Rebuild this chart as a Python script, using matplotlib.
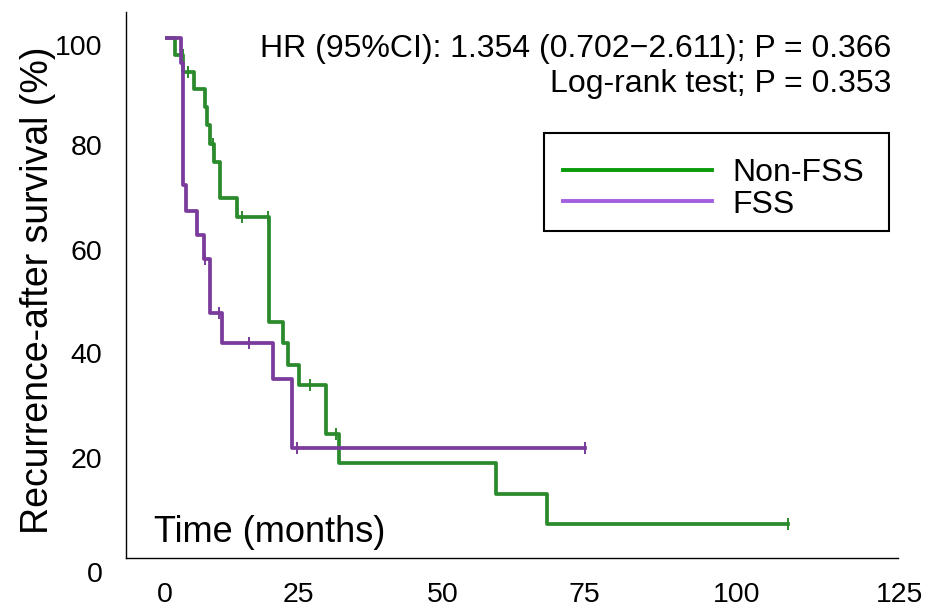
import matplotlib
matplotlib.use('Agg')
from matplotlib import pyplot as plt
from matplotlib.lines import Line2D
from matplotlib.patches import Rectangle
from matplotlib.transforms import ScaledTranslation

plt.rcParams['font.family'] = ['Liberation Sans', 'DejaVu Sans']

# Kaplan-Meier steps (months, %)
nonfss_t = [0, 1.37, 2.79, 4.67, 6.5, 6.8, 7.35, 8.0, 9.06, 11.9, 17.5, 19.9, 20.7, 22.6, 27.2, 29.4, 56.2, 64.9]
nonfss_s = [100, 96.7, 93.5, 90.1, 86.8, 83.3, 79.7, 76.2, 69.2, 65.6, 45.3, 41.3, 37.2, 33.3, 23.8, 18.2, 12.4, 6.5]
nonfss_end = 106.2
nonfss_cens_t = [2.7, 3.59, 7.9, 12.8, 17.3, 24.4, 28.9, 106.2]
nonfss_cens_s = [96.7, 93.5, 79.7, 65.6, 65.6, 33.3, 23.8, 6.5]

fss_t = [0, 2.39, 2.82, 3.2, 5.08, 6.32, 7.35, 9.35, 18.17, 21.3]
fss_s = [100, 95.2, 71.7, 66.8, 62.1, 57.5, 47.1, 41.3, 34.5, 21.2]
fss_end = 71.45
fss_cens_t = [6.5, 8.94, 14.07, 22.3, 71.45]
fss_cens_s = [57.5, 47.1, 41.3, 21.2, 21.2]

xticks = [0, 25, 50, 75, 100, 125]
yticks = [0, 20, 40, 60, 80, 100]

green = '#2b8a2b'
purple = '#7b3b9c'

fig = plt.figure(figsize=(9.3, 6.08), dpi=100)
ax = fig.add_axes([126/930, 1-558/608, (898-126)/930, (558-12)/608])

# curves, green under purple
ax.step(nonfss_t + [nonfss_end], nonfss_s + [nonfss_s[-1]], where='post', color=green, lw=2.7)
ax.plot(nonfss_cens_t, nonfss_cens_s, ls='none', marker='|', ms=8, mew=1.4, color=green)
ax.step(fss_t + [fss_end], fss_s + [fss_s[-1]], where='post', color=purple, lw=2.7)
ax.plot(fss_cens_t, fss_cens_s, ls='none', marker='|', ms=8, mew=1.4, color=purple)

ax.set_xlim(-7.0, 124.96)
ax.set_ylim(0, 105)
ax.set_xticks(xticks)
ax.set_yticks(yticks)
ax.tick_params(length=0, labelsize=20.5)
ax.tick_params(axis='x', pad=17)
ax.tick_params(axis='y', pad=17)

# the original's tick labels are placed a bit off their values; nudge them the same way (px)
x_nudge = [-2, -15, -17, -21, -15, 2]
y_nudge = [-14, -4, -3, -4, -3, -7]
for lab, dx in zip(ax.get_xticklabels(), x_nudge):
    lab.set_transform(lab.get_transform() + ScaledTranslation(dx/100, 0, fig.dpi_scale_trans))
for lab, dy in zip(ax.get_yticklabels(), y_nudge):
    lab.set_transform(lab.get_transform() + ScaledTranslation(0, dy/100, fig.dpi_scale_trans))

for s in ['top', 'right']:
    ax.spines[s].set_visible(False)
for s in ['left', 'bottom']:
    ax.spines[s].set_linewidth(1.0)

# legend without its own frame, box drawn separately
handles = [Line2D([], [], color='#0b9a0b', lw=2.8), Line2D([], [], color='#a45ee0', lw=2.8)]
leg = ax.legend(handles, ['Non-FSS', 'FSS'], fontsize=23, loc='upper left',
                bbox_to_anchor=(563/930, 1-158/608), bbox_transform=fig.transFigure,
                frameon=False, handlelength=4.67, handletextpad=0.62,
                labelspacing=0.05, borderpad=0, borderaxespad=0)
fig.add_artist(Rectangle((544/930, 1-231/608), 345/930, 98/608, transform=fig.transFigure,
                         fill=False, ec='black', lw=1.5))

fig.text(891/930, 1-56.7/608, 'HR (95%CI): 1.354 (0.702\u22122.611); P = 0.366',
         ha='right', va='baseline', fontsize=23)
fig.text(891/930, 1-91.7/608, 'Log-rank test; P = 0.353', ha='right', va='baseline', fontsize=23)
fig.text(154/930, 1-541.7/608, 'Time (months)', ha='left', va='baseline', fontsize=26)
fig.text(38/930, 1-290/608, 'Recurrence-after survival (%)', rotation=90, ha='center', va='center', fontsize=27)

fig.savefig('out.png', dpi=100)
